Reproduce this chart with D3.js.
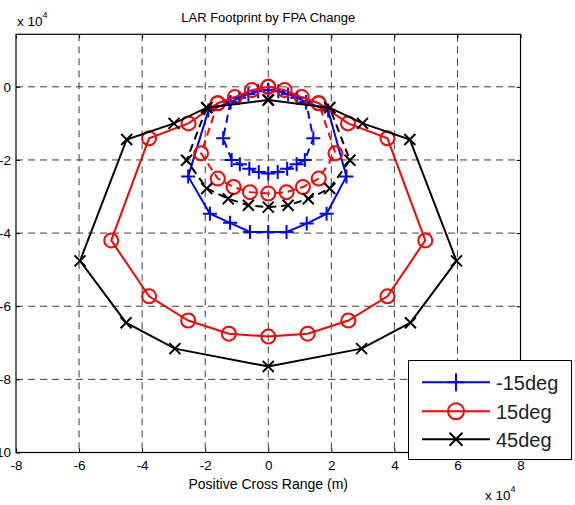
<!DOCTYPE html>
<html>
<head>
<meta charset="utf-8">
<script src="https://cdn.jsdelivr.net/npm/d3@7"></script>
<style>
  html, body { margin: 0; padding: 0; background: #fff; }
  svg { display: block; font-family: "Liberation Sans", Arial, sans-serif; }
</style>
</head>
<body>
<svg id="chart" width="575" height="505"></svg>
<script>
// Landing footprints (units of 1e4 m) for three flight-path-angle changes.
const seriesNames = ["-15deg", "15deg", "45deg"];
const seriesColors = ["#0000ff", "#ff0000", "#000000"];
const seriesMarkers = ["plus", "circle", "cross"];

// -15deg : outer boundary (closed) and inner boundary (dashed)
const blueOuterX = [0, -0.32, -0.63, -0.92, -1.2, -1.9, -2.54, -1.85, -1.21, -0.58, 0, 0.58, 1.22, 1.85, 2.48, 1.9, 1.2, 0.92, 0.63, 0.32, 0];
const blueOuterY = [-0.09, -0.12, -0.2, -0.3, -0.42, -0.65, -2.45, -3.47, -3.72, -3.97, -3.97, -3.97, -3.74, -3.47, -2.45, -0.65, -0.42, -0.3, -0.2, -0.12, -0.09];
const blueInnerX = [-1.2, -1.43, -1.16, -0.9, -0.6, -0.3, 0, 0.3, 0.6, 0.9, 1.16, 1.43, 1.2];
const blueInnerY = [-0.42, -1.41, -2.0, -2.12, -2.24, -2.33, -2.37, -2.33, -2.24, -2.12, -2.0, -1.41, -0.42];

// 15deg
const redOuterX = [0, -0.52, -1.06, -1.6, -2.53, -3.78, -4.98, -3.78, -2.54, -1.25, 0, 1.25, 2.54, 3.78, 4.98, 3.78, 2.53, 1.6, 1.06, 0.52, 0];
const redOuterY = [0.0, -0.09, -0.28, -0.45, -1.0, -1.41, -4.2, -5.73, -6.39, -6.75, -6.83, -6.75, -6.39, -5.73, -4.2, -1.41, -1.0, -0.45, -0.28, -0.09, 0.0];
const redInnerX = [-1.6, -2.13, -1.6, -1.1, -0.58, 0, 0.58, 1.1, 1.6, 2.13, 1.6];
const redInnerY = [-0.45, -1.82, -2.51, -2.74, -2.88, -2.92, -2.88, -2.74, -2.51, -1.82, -0.45];

// 45deg
const blackOuterX = [0, -1.95, -2.99, -4.49, -5.97, -4.51, -2.96, 0, 2.96, 4.51, 5.97, 4.49, 2.99, 1.95, 0];
const blackOuterY = [-0.36, -0.57, -1.0, -1.44, -4.76, -6.45, -7.16, -7.65, -7.16, -6.45, -4.76, -1.44, -1.0, -0.57, -0.36];
const blackInnerX = [-1.95, -2.59, -1.95, -1.27, -0.63, 0, 0.63, 1.27, 1.95, 2.59, 1.95];
const blackInnerY = [-0.57, -2.01, -2.78, -3.06, -3.24, -3.29, -3.24, -3.06, -2.78, -2.01, -0.57];

const xTicks = [-8, -6, -4, -2, 0, 2, 4, 6, 8];
const yTicks = [0, -2, -4, -6, -8, -10];
const chartTitle = "LAR Footprint by FPA Change";
const xLabel = "Positive Cross Range (m)";

const series = [
  { outer: [blueOuterX, blueOuterY], inner: [blueInnerX, blueInnerY] },
  { outer: [redOuterX, redOuterY], inner: [redInnerX, redInnerY] },
  { outer: [blackOuterX, blackOuterY], inner: [blackInnerX, blackInnerY] }
];

const svg = d3.select("#chart");
const plot = { left: 16, right: 520.5, top: 34.3, bottom: 452.5 };

const x = d3.scaleLinear().domain([-8, 8]).range([plot.left, plot.right]);
const y = d3.scaleLinear().domain([-10, 1.436]).range([plot.bottom, plot.top]);

// grid
const grid = svg.append("g").attr("stroke", "#3c3c3c").attr("stroke-width", 1)
  .attr("stroke-dasharray", "7,5");
xTicks.slice(1, -1).forEach(t => {
  grid.append("line").attr("x1", x(t)).attr("x2", x(t))
    .attr("y1", plot.top).attr("y2", plot.bottom);
});
yTicks.slice(0, -1).forEach(t => {
  grid.append("line").attr("x1", plot.left).attr("x2", plot.right)
    .attr("y1", y(t)).attr("y2", y(t));
});

// axes with inward ticks; labels use a plain hyphen for negatives
const fmt = d => String(d);
const xAxisB = d3.axisBottom(x).tickValues(xTicks).tickSize(-4).tickPadding(8).tickFormat(fmt);
const xAxisT = d3.axisTop(x).tickValues(xTicks).tickSize(-4).tickFormat("");
const yAxisL = d3.axisLeft(y).tickValues(yTicks).tickSize(-4).tickPadding(5).tickFormat(fmt);
const yAxisR = d3.axisRight(y).tickValues(yTicks).tickSize(-4).tickFormat("");

function styleAxis(g) {
  g.select(".domain").remove();
  g.selectAll("line").attr("stroke", "#000");
  g.selectAll("text").attr("fill", "#000").attr("font-size", 13.5)
    .attr("font-family", "Liberation Sans, Arial, sans-serif");
}
svg.append("g").attr("transform", `translate(0,${plot.bottom})`).call(xAxisB).call(styleAxis);
svg.append("g").attr("transform", `translate(0,${plot.top})`).call(xAxisT).call(styleAxis);
svg.append("g").attr("transform", `translate(${plot.left},0)`).call(yAxisL).call(styleAxis);
svg.append("g").attr("transform", `translate(${plot.right},0)`).call(yAxisR).call(styleAxis);

// frame
svg.append("rect").attr("x", plot.left).attr("y", plot.top)
  .attr("width", plot.right - plot.left).attr("height", plot.bottom - plot.top)
  .attr("fill", "none").attr("stroke", "#000").attr("stroke-width", 1.2);

// series
const line = d3.line().x(d => x(d[0])).y(d => y(d[1]));
const markerPath = {
  plus: s => `M${-s},0H${s}M0,${-s}V${s}`,
  cross: s => `M${-s},${-s}L${s},${s}M${-s},${s}L${s},${-s}`
};
function drawMarker(g, kind, cx, cy, color, size) {
  if (kind === "circle") {
    g.append("circle").attr("cx", cx).attr("cy", cy).attr("r", size)
      .attr("fill", "none").attr("stroke", color).attr("stroke-width", 2);
  } else {
    g.append("path").attr("transform", `translate(${cx},${cy})`)
      .attr("d", markerPath[kind](size))
      .attr("fill", "none").attr("stroke", color).attr("stroke-width", 2);
  }
}
const markerSize = { plus: 7, circle: 7, cross: 5.5 };

series.forEach((s, i) => {
  const g = svg.append("g");
  const color = seriesColors[i];
  const outerPts = s.outer[0].map((v, k) => [v, s.outer[1][k]]);
  const innerPts = s.inner[0].map((v, k) => [v, s.inner[1][k]]);
  g.append("path").attr("d", line(outerPts)).attr("fill", "none")
    .attr("stroke", color).attr("stroke-width", 2);
  g.append("path").attr("d", line(innerPts)).attr("fill", "none")
    .attr("stroke", color).attr("stroke-width", 2).attr("stroke-dasharray", "8,5");
  outerPts.concat(innerPts).forEach(p =>
    drawMarker(g, seriesMarkers[i], x(p[0]), y(p[1]), color, markerSize[seriesMarkers[i]]));
});

// title and labels
svg.append("text").attr("x", (plot.left + plot.right) / 2).attr("y", 22)
  .attr("text-anchor", "middle").attr("font-size", 13).text(chartTitle);
svg.append("text").attr("x", (plot.left + plot.right) / 2).attr("y", 489)
  .attr("text-anchor", "middle").attr("font-size", 14).text(xLabel);

function multiplier(xp, yp) {
  const t = svg.append("text").attr("x", xp).attr("y", yp).attr("font-size", 13.5);
  t.append("tspan").text("x 10");
  t.append("tspan").attr("font-size", 9).attr("dy", -8).text("4");
}
multiplier(17, 26);
multiplier(485, 500);

// legend
const lg = svg.append("g");
lg.append("rect").attr("x", 408.5).attr("y", 360.5).attr("width", 163).attr("height", 99)
  .attr("fill", "#fff").attr("stroke", "#000").attr("stroke-width", 1);
const legendRows = [382.3, 411.3, 439.3];
const legendMarkerSize = { plus: 9, circle: 8, cross: 6.5 };
seriesNames.forEach((name, i) => {
  const ly = legendRows[i];
  lg.append("line").attr("x1", 422).attr("x2", 490).attr("y1", ly).attr("y2", ly)
    .attr("stroke", seriesColors[i]).attr("stroke-width", 2);
  drawMarker(lg, seriesMarkers[i], 456, ly, seriesColors[i], legendMarkerSize[seriesMarkers[i]]);
  lg.append("text").attr("x", 496).attr("y", ly + 7.5).attr("font-size", 20)
    .attr("fill", "#222").text(name);
});
</script>
</body>
</html>
